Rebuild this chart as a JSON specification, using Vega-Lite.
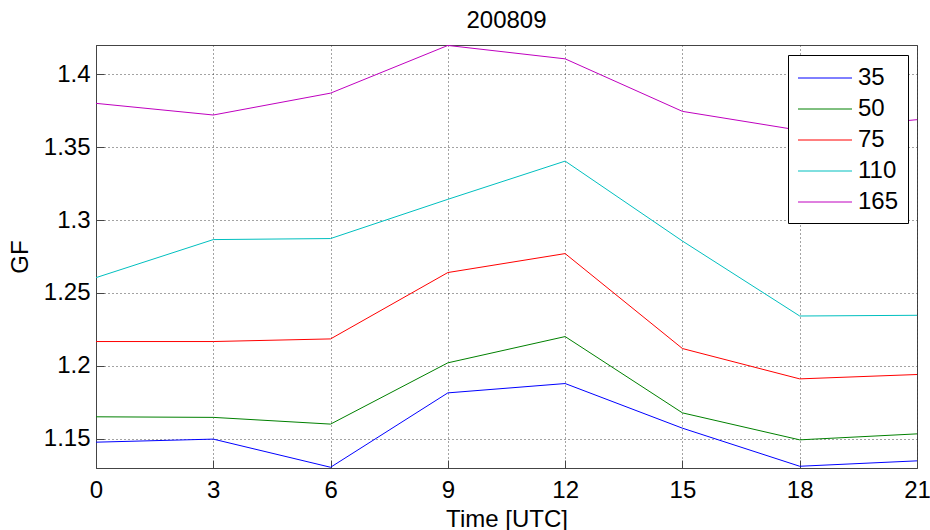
{
  "$schema": "https://vega.github.io/schema/vega-lite/v6.json",
  "autosize": {"type": "none"},
  "padding": {"left": 96, "top": 45, "right": 13, "bottom": 62},
  "width": 821,
  "height": 423,
  "background": "white",
  "title": {"text": "200809", "fontSize": 24, "fontWeight": "normal", "font": "Liberation Sans", "color": "#000", "baseline": "alphabetic", "offset": -7, "anchor": "middle"},
  "config": {
    "view": {"stroke": "#444", "strokeWidth": 1},
    "font": "Liberation Sans",
    "axis": {"labelFont": "Liberation Sans", "titleFont": "Liberation Sans", "labelFontSize": 24, "titleFontSize": 24, "labelColor": "#000", "titleColor": "#000", "titleFontWeight": "normal", "domainColor": "#444", "tickColor": "#444", "gridColor": "#333", "gridDash": [1, 3], "gridOpacity": 0.9, "labelFlush": false, "labelOverlap": false}
  },
  "data": {"values": [
    {"t": 0, "gf": 1.1477, "s": "35"}, {"t": 3, "gf": 1.1498, "s": "35"}, {"t": 6, "gf": 1.1305, "s": "35"}, {"t": 9, "gf": 1.1815, "s": "35"}, {"t": 12, "gf": 1.1879, "s": "35"}, {"t": 15, "gf": 1.1573, "s": "35"}, {"t": 18, "gf": 1.1312, "s": "35"}, {"t": 21, "gf": 1.1349, "s": "35"},
    {"t": 0, "gf": 1.1651, "s": "50"}, {"t": 3, "gf": 1.1647, "s": "50"}, {"t": 6, "gf": 1.1601, "s": "50"}, {"t": 9, "gf": 1.2021, "s": "50"}, {"t": 12, "gf": 1.2201, "s": "50"}, {"t": 15, "gf": 1.1678, "s": "50"}, {"t": 18, "gf": 1.1493, "s": "50"}, {"t": 21, "gf": 1.1534, "s": "50"},
    {"t": 0, "gf": 1.2167, "s": "75"}, {"t": 3, "gf": 1.2167, "s": "75"}, {"t": 6, "gf": 1.2185, "s": "75"}, {"t": 9, "gf": 1.264, "s": "75"}, {"t": 12, "gf": 1.277, "s": "75"}, {"t": 15, "gf": 1.2119, "s": "75"}, {"t": 18, "gf": 1.1911, "s": "75"}, {"t": 21, "gf": 1.1941, "s": "75"},
    {"t": 0, "gf": 1.2605, "s": "110"}, {"t": 3, "gf": 1.2866, "s": "110"}, {"t": 6, "gf": 1.2873, "s": "110"}, {"t": 9, "gf": 1.3142, "s": "110"}, {"t": 12, "gf": 1.3404, "s": "110"}, {"t": 15, "gf": 1.2856, "s": "110"}, {"t": 18, "gf": 1.2342, "s": "110"}, {"t": 21, "gf": 1.2347, "s": "110"},
    {"t": 0, "gf": 1.380, "s": "165"}, {"t": 3, "gf": 1.372, "s": "165"}, {"t": 6, "gf": 1.387, "s": "165"}, {"t": 9, "gf": 1.4197, "s": "165"}, {"t": 12, "gf": 1.4105, "s": "165"}, {"t": 15, "gf": 1.3745, "s": "165"}, {"t": 18, "gf": 1.3615, "s": "165"}, {"t": 21, "gf": 1.3688, "s": "165"}
  ]},
  "layer": [
    {
      "mark": {"type": "line", "strokeWidth": 1, "clip": true},
      "encoding": {
        "x": {"field": "t", "type": "quantitative", "scale": {"domain": [0, 21], "nice": false, "zero": false},
              "axis": {"values": [0, 3, 6, 9, 12, 15, 18, 21], "title": "Time [UTC]", "titleY": 58, "titleBaseline": "alphabetic", "tickSize": -8, "labelPadding": 37, "labelBaseline": "alphabetic", "grid": true}},
        "y": {"field": "gf", "type": "quantitative", "scale": {"domain": [1.13, 1.42], "nice": false, "zero": false},
              "axis": {"values": [1.15, 1.2, 1.25, 1.3, 1.35, 1.4], "format": ".2~f", "title": "GF", "titleX": -69, "titleBaseline": "alphabetic", "tickSize": -8, "labelPadding": 14, "grid": true}},
        "color": {"field": "s", "type": "nominal", "scale": {"domain": ["35", "50", "75", "110", "165"], "range": ["#0000ff", "#008000", "#ff0000", "#00bfbf", "#bf00bf"]},
                  "legend": {"title": null, "orient": "none", "legendX": 692, "legendY": 10, "symbolType": "M-2,0H2", "symbolSize": 729, "symbolStrokeWidth": 1, "symbolOffset": 14, "labelFontSize": 24, "labelFont": "Liberation Sans", "labelColor": "#000", "strokeColor": "#000", "fillColor": "white", "padding": 9, "labelOffset": 19, "rowPadding": 5}}
      }
    }
  ]
}
